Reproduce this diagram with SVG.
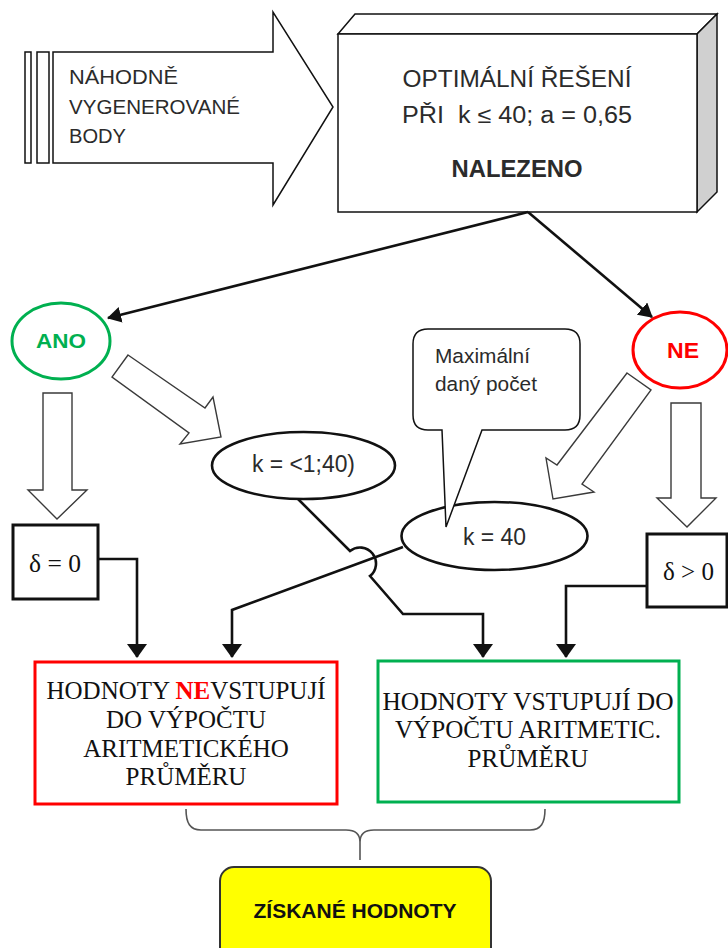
<svg xmlns="http://www.w3.org/2000/svg" width="728" height="948" viewBox="0 0 728 948">
  <style>
    .sans { font-family: "Liberation Sans", Arial, sans-serif; fill: #2b2b2b; }
    .serif { font-family: "Liberation Serif", "Times New Roman", serif; fill: #111; }
    .bold { font-weight: bold; }
    .block { fill: #fff; stroke: #3a3a3a; stroke-width: 1.4; stroke-linejoin: miter; }
    .outline { fill: #fff; stroke: #111; stroke-width: 1.5; }
    .bubble { fill: #fff; stroke: #111; stroke-width: 2.6; }
    .conn { fill: none; stroke: #111; stroke-width: 2.6; stroke-linejoin: miter; }
    .mid { text-anchor: middle; }
  </style>
  <defs>
    <marker id="head" viewBox="0 0 14 20" refX="13" refY="10" markerWidth="14" markerHeight="20" markerUnits="userSpaceOnUse" orient="auto">
      <path d="M0,0 L14,10 L0,20 z" fill="#111"/>
    </marker>
    <marker id="headSmall" viewBox="0 0 14 16" refX="13" refY="8" markerWidth="14" markerHeight="16" markerUnits="userSpaceOnUse" orient="auto">
      <path d="M0,0 L14,8 L0,16 z" fill="#111"/>
    </marker>
  </defs>

  <rect width="728" height="948" fill="#fff"/>

  <!-- striped input arrow -->
  <g id="input-arrow">
    <rect x="25" y="52" width="6" height="111" class="outline"/>
    <rect x="37" y="52" width="12" height="111" class="outline"/>
    <polygon points="53,52 273,52 273,12 333,107 273,205 273,163 53,163" class="outline"/>
    <text class="sans" font-size="20.5" x="69" y="84" textLength="109" lengthAdjust="spacingAndGlyphs">NÁHODNĚ</text>
    <text class="sans" font-size="20.5" x="69" y="114" textLength="171" lengthAdjust="spacingAndGlyphs">VYGENEROVANÉ</text>
    <text class="sans" font-size="20.5" x="69" y="143" textLength="57" lengthAdjust="spacingAndGlyphs">BODY</text>
  </g>

  <!-- 3D result box -->
  <g id="result-box">
    <polygon points="338,34 355,14 717,14 697,34" class="outline"/>
    <polygon points="697,34 717,14 717,192 697,212" fill="#d0d0d0" stroke="#111" stroke-width="1.5"/>
    <rect x="338" y="34" width="359" height="178" class="outline"/>
    <text class="sans mid" font-size="23" x="517" y="87" textLength="229" lengthAdjust="spacingAndGlyphs">OPTIMÁLNÍ ŘEŠENÍ</text>
    <text class="sans mid" font-size="23" x="517" y="123" textLength="230" lengthAdjust="spacingAndGlyphs" xml:space="preserve">PŘI  k ≤ 40; a = 0,65</text>
    <text class="sans mid bold" font-size="23.5" x="517" y="177" textLength="131" lengthAdjust="spacingAndGlyphs">NALEZENO</text>
  </g>

  <!-- decision: yes -->
  <g id="ano">
    <ellipse cx="61" cy="341" rx="49" ry="38" fill="#fff" stroke="#00b050" stroke-width="3"/>
    <text class="sans mid bold" font-size="21" x="61" y="348" fill="#00b050" style="fill:#00b050" textLength="50" lengthAdjust="spacingAndGlyphs">ANO</text>
  </g>

  <!-- decision: no -->
  <g id="ne">
    <ellipse cx="680" cy="350" rx="47" ry="38" fill="#fff" stroke="#ff0000" stroke-width="3"/>
    <text class="sans mid bold" font-size="22" x="683" y="358" style="fill:#ff0000" textLength="32" lengthAdjust="spacingAndGlyphs">NE</text>
  </g>

  <!-- hollow block arrows -->
  <g id="ano-down">
    <polygon points="43,393 72,393 72,490 87,490 57,519 28,490 43,490" class="block"/>
  </g>
  <g id="ano-diag">
    <polygon points="128,355 205,408 213,397 221,437 180,444 189,433 112,377" class="block"/>
  </g>
  <g id="ne-diag">
    <polygon points="627,373 651,390 582,484 594,492 553,499 546,458 557,465" class="block"/>
  </g>
  <g id="ne-down">
    <polygon points="671,403 701,403 701,498 716,498 687,527 657,498 671,498" class="block"/>
  </g>

  <!-- k range ellipse -->
  <g id="k-range">
    <ellipse cx="303.5" cy="465.5" rx="91.5" ry="33.5" class="bubble"/>
    <text class="sans mid" font-size="23" x="303.5" y="472" textLength="103" lengthAdjust="spacingAndGlyphs">k = &lt;1;40)</text>
  </g>

  <!-- k max ellipse -->
  <g id="k-max">
    <ellipse cx="494.5" cy="536" rx="93" ry="34" class="bubble"/>
    <text class="sans mid" font-size="23" x="494.5" y="545" textLength="63" lengthAdjust="spacingAndGlyphs">k = 40</text>
  </g>

  <!-- callout note -->
  <g id="callout">
    <path d="M428,329 H565 Q580,329 580,344 V415 Q580,430 565,430 H482 L446,527 L442,430 H428 Q413,430 413,415 V344 Q413,329 428,329 Z" class="outline"/>
    <text class="sans" font-size="20.5" x="435" y="363" textLength="95" lengthAdjust="spacingAndGlyphs">Maximální</text>
    <text class="sans" font-size="20.5" x="435" y="391" textLength="102" lengthAdjust="spacingAndGlyphs">daný počet</text>
  </g>

  <!-- delta boxes -->
  <g id="delta-zero">
    <rect x="13" y="525" width="85" height="74" fill="#fff" stroke="#111" stroke-width="3"/>
    <text class="serif" font-size="25" x="29" y="572" textLength="52" lengthAdjust="spacingAndGlyphs">δ = 0</text>
  </g>
  <g id="delta-positive">
    <rect x="647" y="534" width="80" height="73" fill="#fff" stroke="#111" stroke-width="3"/>
    <text class="serif" font-size="25" x="663" y="580" textLength="51" lengthAdjust="spacingAndGlyphs">δ &gt; 0</text>
  </g>

  <!-- connectors -->
  <g id="connectors">
    <line x1="528" y1="212" x2="108" y2="318" class="conn" marker-end="url(#headSmall)"/>
    <line x1="528" y1="212" x2="652" y2="317" class="conn" marker-end="url(#headSmall)"/>
    <polyline points="98,559 137,559 137,657" class="conn" marker-end="url(#head)"/>
    <polyline points="403,547 232,610 232,657" class="conn" marker-end="url(#head)"/>
    <path d="M298,499 L350,551 A16,16 0 0 1 370,576 L403,614 H483 V657" class="conn" marker-end="url(#head)"/>
    <polyline points="647,586 566,586 566,657" class="conn" marker-end="url(#head)"/>
    <path d="M186,809 C186,823 190,830 201,830 L346,830 C356,830 360,835 360,842 L360,860 M360,842 C360,835 364,830 374,830 L530,830 C541,830 545,823 545,809" fill="none" stroke="#555" stroke-width="1.6"/>
  </g>

  <!-- excluded values -->
  <g id="excluded">
    <rect x="35" y="662" width="302" height="142" fill="#fff" stroke="#ff0000" stroke-width="3"/>
    <text class="serif mid" font-size="25" x="186" y="699">HODNOTY <tspan font-weight="bold" style="fill:#ff0000">NE</tspan>VSTUPUJÍ</text>
    <text class="serif mid" font-size="25" x="186" y="728">DO VÝPOČTU</text>
    <text class="serif mid" font-size="25" x="186" y="757">ARITMETICKÉHO</text>
    <text class="serif mid" font-size="25" x="186" y="785">PRŮMĚRU</text>
  </g>

  <!-- included values -->
  <g id="included">
    <rect x="378" y="661" width="301" height="141" fill="#fff" stroke="#00b050" stroke-width="3"/>
    <text class="serif mid" font-size="25" x="528" y="710" textLength="291" lengthAdjust="spacingAndGlyphs">HODNOTY VSTUPUJÍ DO</text>
    <text class="serif mid" font-size="25" x="528" y="738" textLength="266" lengthAdjust="spacingAndGlyphs">VÝPOČTU ARITMETIC.</text>
    <text class="serif mid" font-size="25" x="528" y="767">PRŮMĚRU</text>
  </g>

  <!-- result values -->
  <g id="result-values">
    <rect x="220" y="867" width="271" height="95" rx="14" ry="14" fill="#ffff00" stroke="#333" stroke-width="2"/>
    <text class="sans mid bold" font-size="21" x="355" y="918" style="fill:#111" textLength="203" lengthAdjust="spacingAndGlyphs">ZÍSKANÉ HODNOTY</text>
  </g>
</svg>
